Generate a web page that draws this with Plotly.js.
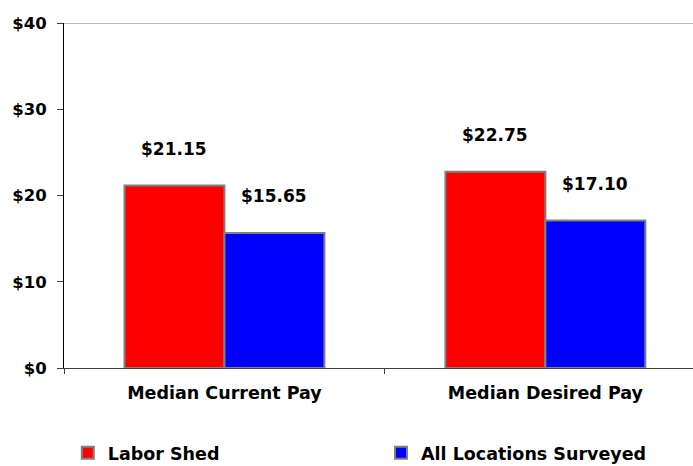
<!DOCTYPE html>
<html>
<head>
<meta charset="utf-8">
<script src="https://cdn.plot.ly/plotly-3.0.1.min.js"></script>
<style>html,body{margin:0;padding:0;background:#fff;}#chart{width:693px;height:466px;}</style>
</head>
<body>
<div id="chart"></div>
<script>
const categories = ["Median Current Pay", "Median Desired Pay"];
const seriesNames = ["Labor Shed", "All Locations Surveyed"];
const laborShed = [21.15, 22.75];
const allLocations = [15.65, 17.10];
const yTicks = [0, 10, 20, 30, 40];
const yTickLabels = ["$0", "$10", "$20", "$30", "$40"];

const FONT = "DejaVu Sans";
const barLine = {color: "#808080", width: 2};

const traces = [
  {type: "bar", name: seriesNames[0], x: categories, y: laborShed,
   marker: {color: "#FF0000", line: barLine}, legend: "legend"},
  {type: "bar", name: seriesNames[1], x: categories, y: allLocations,
   marker: {color: "#0000FF", line: barLine}, legend: "legend2"}
];

const annotations = [];
[laborShed, allLocations].forEach((vals, si) => {
  vals.forEach((v, ci) => {
    annotations.push({
      x: categories[ci], y: v, xref: "x", yref: "y",
      text: "$" + v.toFixed(2), showarrow: false,
      xshift: si === 0 ? -50 : 50, yshift: 37, yanchor: "middle",
      font: {family: FONT, size: 17, weight: "bold", color: "#000"}
    });
  });
});

const legendFont = {family: FONT, size: 17.5, weight: "bold", color: "#000"};

const layout = {
  width: 693, height: 466,
  margin: {l: 64, r: 0, t: 23, b: 98},
  paper_bgcolor: "#fff", plot_bgcolor: "#fff",
  font: {family: FONT, weight: "bold", color: "#000"},
  barmode: "group", bargap: 0.377, bargroupgap: 0,
  xaxis: {
    type: "category", range: [-0.5, 1.46],
    showline: true, linecolor: "#404040", linewidth: 1,
    ticks: "outside", tickson: "boundaries", ticklen: 5, tickcolor: "#404040",
    ticklabelstandoff: 9,
    tickfont: {family: FONT, size: 17.5, weight: "bold", color: "#000"},
    showgrid: false, zeroline: false, fixedrange: true
  },
  yaxis: {
    range: [0, 40], tickvals: yTicks, ticktext: yTickLabels,
    showline: true, linecolor: "#000", linewidth: 1,
    ticks: "outside", ticklen: 6, tickcolor: "#404040",
    ticklabelstandoff: 7,
    tickfont: {family: FONT, size: 16.5, weight: "bold", color: "#000"},
    showgrid: false, zeroline: false, fixedrange: true
  },
  shapes: [{type: "line", xref: "paper", yref: "y", x0: 0, x1: 1,
            y0: yTicks[yTicks.length - 1], y1: yTicks[yTicks.length - 1],
            line: {color: "#808080", width: 1}}],
  annotations: annotations,
  showlegend: true,
  legend: {x: 0.006, y: 0.028, xref: "paper", yref: "container",
           xanchor: "left", yanchor: "middle",
           orientation: "h", font: legendFont, bgcolor: "rgba(0,0,0,0)"},
  legend2: {x: 0.504, y: 0.028, xref: "paper", yref: "container",
            xanchor: "left", yanchor: "middle",
            orientation: "h", font: legendFont, bgcolor: "rgba(0,0,0,0)"}
};

Plotly.newPlot("chart", traces, layout, {staticPlot: true, displayModeBar: false});
</script>
</body>
</html>
